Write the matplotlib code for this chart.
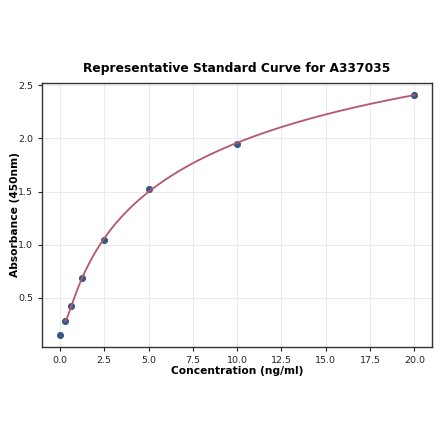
import numpy as np
import matplotlib
matplotlib.use("Agg")
import matplotlib.pyplot as plt

# ── Standard points ──────────────────────────────────────────────────────────
conc = [0.0, 0.3125, 0.625, 1.25, 2.5, 5.0, 10.0, 20.0]     # ng/ml
absorb = [0.15, 0.28, 0.42, 0.69, 1.04, 1.52, 1.95, 2.41]  # OD 450nm

# ── Smooth fit through the non-zero standards (cubic in log x) ───────────────
x_fit = np.array(conc[1:])
y_fit = np.array(absorb[1:])
coef = np.polyfit(np.log(x_fit), y_fit, 3)
xs = np.linspace(x_fit.min(), x_fit.max(), 300)
ys = np.polyval(coef, np.log(xs))

# ── Plot ──────────────────────────────────────────────────────────────────────
fig, ax = plt.subplots(figsize=(4.4, 4.41), dpi=100)

ax.scatter(conc, absorb, s=20, color="#2c5d8f", edgecolor="#3a4f6e",
           linewidth=0.6, zorder=3)
ax.plot(xs, ys, color="#b5566f", lw=1.3, zorder=4)

ax.set_title("Representative Standard Curve for A337035",
             fontsize=8.8, fontweight="bold", pad=8)
ax.set_xlabel("Concentration (ng/ml)", fontsize=7.7, fontweight="bold", labelpad=1)
ax.set_ylabel("Absorbance (450nm)", fontsize=7.7, fontweight="bold", labelpad=-1)

ax.set_xticks(np.arange(0, 20.1, 2.5))
ax.set_yticks([0.5, 1.0, 1.5, 2.0, 2.5])
ax.tick_params(labelsize=6.8, length=3, colors="#222222")
ax.grid(True, color="#e8e8e8", lw=0.6)
ax.set_axisbelow(True)
for sp in ax.spines.values():
    sp.set_color("#333333")
    sp.set_linewidth(1.0)

fig.subplots_adjust(left=0.096, right=0.982, top=0.812, bottom=0.213)
fig.savefig("out.png", dpi=100)
